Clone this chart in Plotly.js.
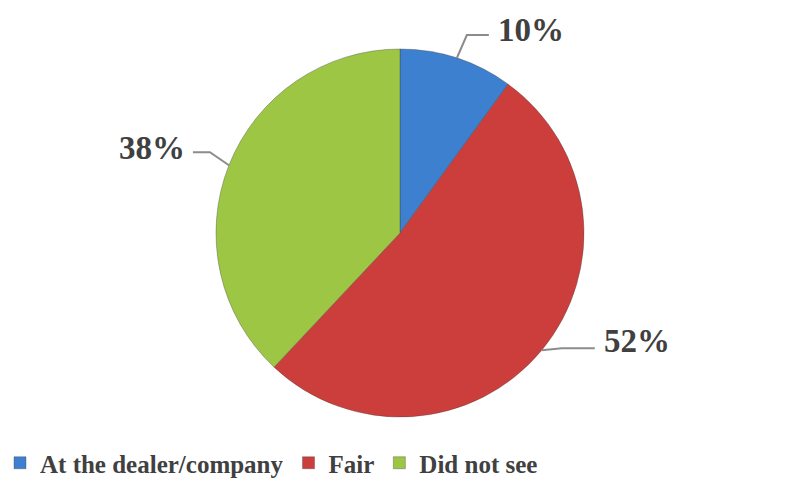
<!DOCTYPE html>
<html>
<head>
<meta charset="utf-8">
<script src="https://cdn.plot.ly/plotly-3.0.1.min.js"></script>
<style>
html,body{margin:0;padding:0;background:#fff;}
#chart{width:810px;height:496px;}
</style>
</head>
<body>
<div id="chart"></div>
<script>
// ---- data ----
const categories = ["At the dealer/company", "Fair", "Did not see"];
const shares = [10, 52, 38];
const sliceColors = ["#3E80D0", "#CC3E3B", "#9EC645"];

// ---- layout geometry (pixels) ----
const W = 810, H = 496;
const cx = 400, cy = 233, R = 184;
// leader line offsets (elbow & end) and text anchors relative to slice mid-point on rim
const leaderStyle = [
  {elbow:[10,-23], end:[32,-23], text:[39,-28], xanchor:"left"},
  {elbow:[20,-2], end:[53,-2], text:[60,-9], xanchor:"left"},
  {elbow:[-19,-13], end:[-36,-13], text:[-42,-17], xanchor:"right"}
];

const px = x => x / W;
const py = y => 1 - y / H;

const total = shares.reduce((a,b)=>a+b,0);
let cum = 0;
const shapes = [], annotations = [];
shares.forEach((v,i)=>{
  const mid = (cum + v/2) / total * 2*Math.PI;
  cum += v;
  const ax = cx + R*Math.sin(mid), ay = cy - R*Math.cos(mid);
  const s = leaderStyle[i];
  shapes.push({
    type:"path", xref:"paper", yref:"paper",
    path:`M${px(ax)},${py(ay)} L${px(ax+s.elbow[0])},${py(ay+s.elbow[1])} L${px(ax+s.end[0])},${py(ay+s.end[1])}`,
    line:{color:"#8c8c8c", width:2}
  });
  annotations.push({
    xref:"paper", yref:"paper", x:px(ax+s.text[0]), y:py(ay+s.text[1]),
    xanchor:s.xanchor, yanchor:"middle", showarrow:false,
    text: v + "%",
    font:{family:"Liberation Serif, Times New Roman, serif", size:33, color:"#404040", weight:"bold"}
  });
});

const trace = {
  type:"pie",
  labels: categories,
  values: shares,
  sort:false,
  direction:"clockwise",
  rotation:0,
  textinfo:"none",
  hoverinfo:"label+percent",
  marker:{colors: sliceColors, line:{color:"rgba(60,60,60,0.35)", width:1}},
  domain:{x:[px(cx-R-20), px(cx+R+20)], y:[py(cy+R), py(cy-R)]}
};

const layout = {
  width:W, height:H,
  margin:{l:0,r:0,t:0,b:0},
  paper_bgcolor:"#fff",
  showlegend:true,
  legend:{
    orientation:"h", x:0, xanchor:"left", y:py(440), yanchor:"top",
    font:{family:"Liberation Serif, Times New Roman, serif", size:25, color:"#404040", weight:"bold"},
    traceorder:"normal"
  },
  shapes: shapes,
  annotations: annotations
};

Plotly.newPlot("chart", [trace], layout, {displayModeBar:false, staticPlot:true});
</script>
</body>
</html>
